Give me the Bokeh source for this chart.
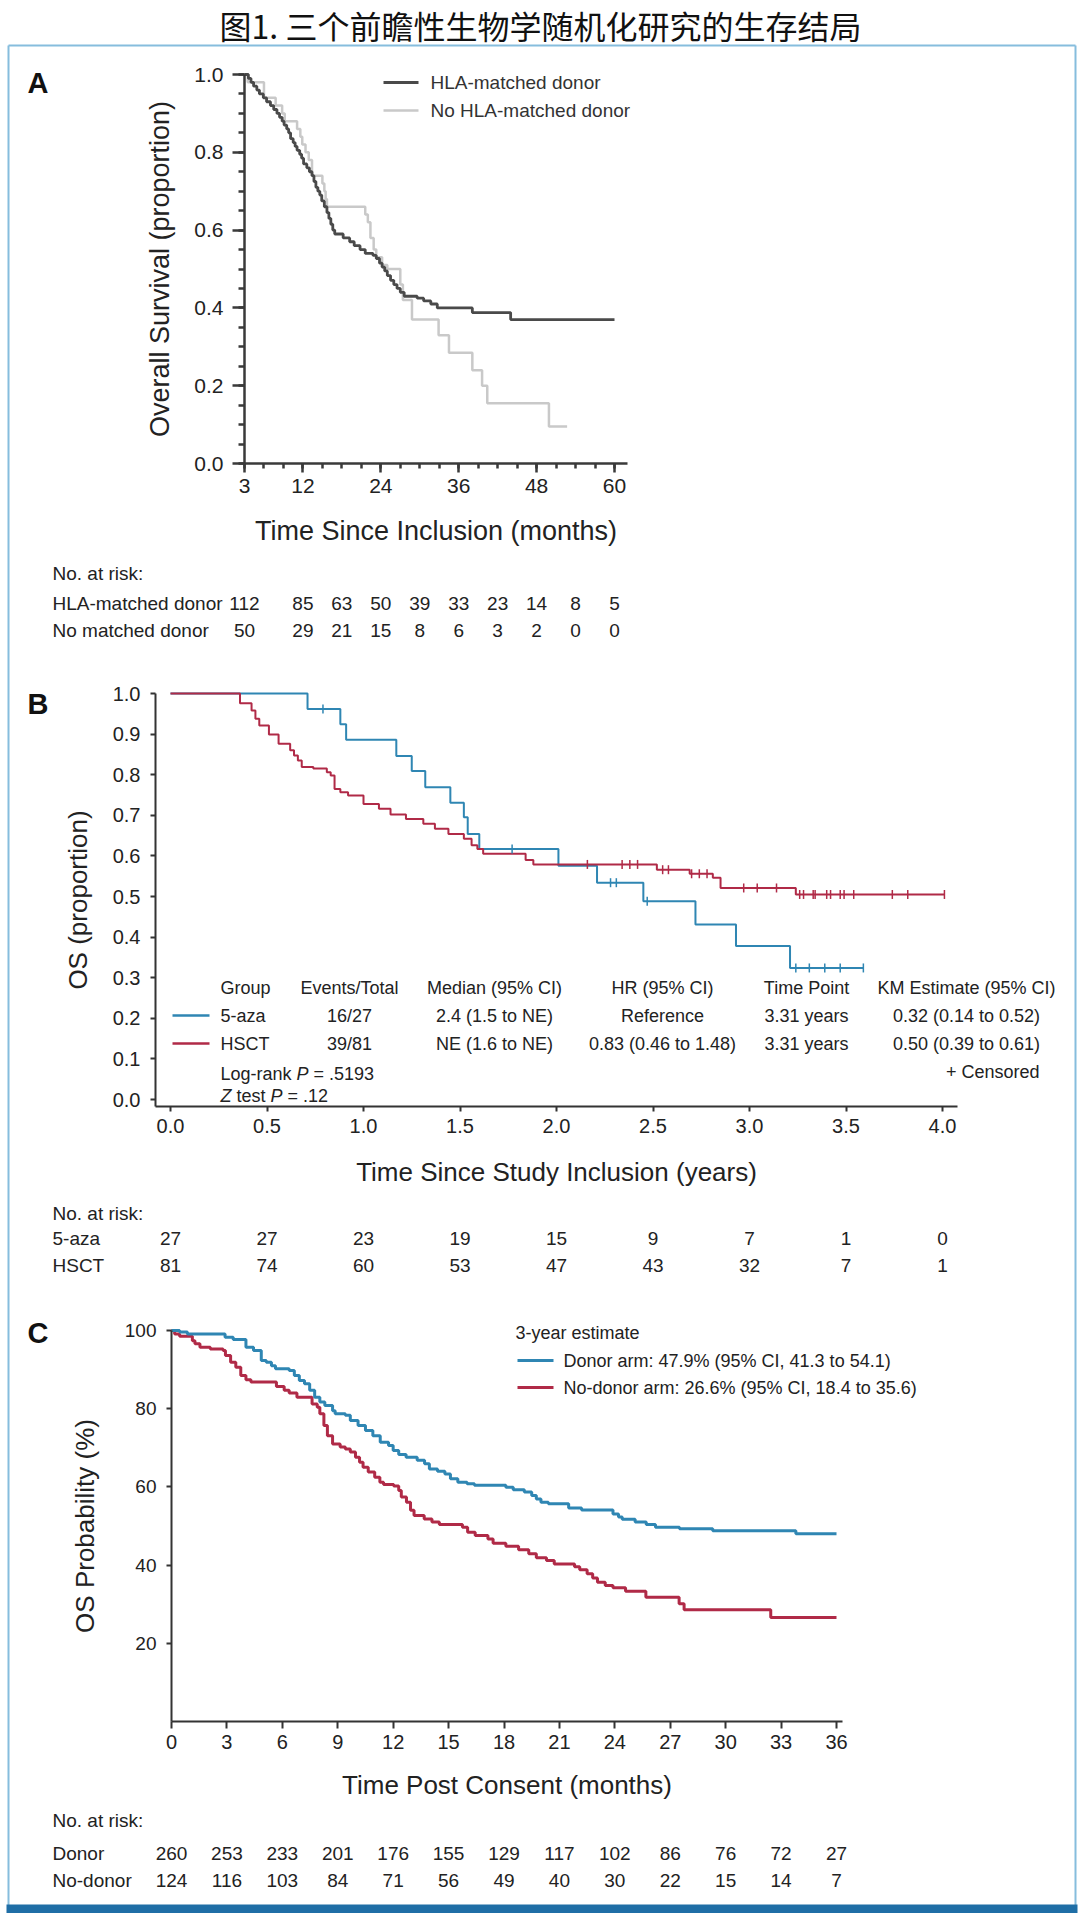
import numpy as np
from bokeh.plotting import figure
from bokeh.models import Range1d, LinearAxis, FixedTicker, NumeralTickFormatter
from bokeh.core.properties import value
from bokeh.embed import file_html
from bokeh.resources import INLINE

W, H = 1080, 1913
FONT = "Liberation Sans"
INK = "#222222"

TITLE = "图1. 三个前瞻性生物学随机化研究的生存结局"

# ---------------- Panel A data ----------------
a_xticks = [3, 12, 24, 36, 48, 60]
a_yticks = [0.0, 0.2, 0.4, 0.6, 0.8, 1.0]
a_hla_t = [3.0, 3.6, 4.0, 4.4, 4.9, 5.3, 5.9, 6.4, 7.0, 7.5, 8.0, 8.4, 8.8, 9.1, 9.5, 9.8,
           10.1, 10.5, 10.8, 11.1, 11.5, 11.8, 12.1, 12.6, 13.0, 13.4, 13.7, 14.0, 14.3,
           14.6, 14.9, 15.3, 15.7, 16.0, 16.3, 16.6, 16.9, 18.2, 19.2, 19.9, 20.8, 21.6,
           22.8, 23.3, 23.8, 24.2, 24.6, 25.0, 25.5, 26.0, 26.5, 27.0, 27.6, 29.6, 30.6,
           31.7, 32.7, 38.1, 44.0, 60.0]
a_hla_s = [1.0, 0.99, 0.98, 0.97, 0.96, 0.95, 0.94, 0.93, 0.92, 0.91, 0.90, 0.89, 0.88, 0.87,
           0.86, 0.85, 0.835, 0.825, 0.815, 0.805, 0.795, 0.785, 0.77, 0.76, 0.75, 0.74,
           0.725, 0.71, 0.70, 0.69, 0.675, 0.66, 0.645, 0.63, 0.615, 0.60, 0.59, 0.58, 0.57,
           0.56, 0.55, 0.54, 0.535, 0.527, 0.515, 0.505, 0.495, 0.483, 0.471, 0.46, 0.45,
           0.44, 0.43, 0.425, 0.418, 0.41, 0.40, 0.388, 0.37, 0.37]
a_no_t = [3.0, 3.5, 6.0, 7.8, 8.8, 9.2, 11.1, 11.6, 11.9, 12.4, 12.9, 13.4, 15.0, 15.3, 15.5,
          15.7, 21.6, 22.0, 22.4, 22.9, 23.3, 24.2, 25.0, 27.0, 27.4, 28.8, 32.9, 34.5, 38.1,
          39.6, 40.4, 49.9, 52.7]
a_no_s = [1.0, 0.98, 0.94, 0.92, 0.90, 0.88, 0.86, 0.84, 0.82, 0.80, 0.78, 0.74, 0.72, 0.70,
          0.68, 0.66, 0.64, 0.62, 0.58, 0.55, 0.53, 0.51, 0.50, 0.46, 0.42, 0.37, 0.33, 0.285,
          0.24, 0.20, 0.155, 0.095, 0.095]
a_series = ["HLA-matched donor", "No HLA-matched donor"]
a_risk_t = [3, 12, 18, 24, 30, 36, 42, 48, 54, 60]
a_risk_rows = ["HLA-matched donor", "No matched donor"]
a_risk_hla = [112, 85, 63, 50, 39, 33, 23, 14, 8, 5]
a_risk_no = [50, 29, 21, 15, 8, 6, 3, 2, 0, 0]

# ---------------- Panel B data ----------------
b_xticks = [0.0, 0.5, 1.0, 1.5, 2.0, 2.5, 3.0, 3.5, 4.0]
b_yticks = [0.0, 0.1, 0.2, 0.3, 0.4, 0.5, 0.6, 0.7, 0.8, 0.9, 1.0]
b_aza_t = [0.0, 0.71, 0.88, 0.91, 1.17, 1.25, 1.32, 1.45, 1.52, 1.54, 1.60, 2.01, 2.21, 2.45,
           2.72, 2.93, 3.21, 3.59]
b_aza_s = [1.0, 0.962, 0.924, 0.886, 0.846, 0.809, 0.769, 0.731, 0.695, 0.654, 0.617, 0.576,
           0.534, 0.488, 0.431, 0.378, 0.324, 0.324]
b_aza_cens = [0.79, 1.77, 2.28, 2.31, 2.47, 3.24, 3.31, 3.39, 3.47, 3.59]
b_hsct_t = [0.0, 0.36, 0.42, 0.44, 0.46, 0.51, 0.56, 0.62, 0.64, 0.66, 0.68, 0.74, 0.81, 0.83,
            0.85, 0.88, 0.92, 1.00, 1.08, 1.14, 1.22, 1.31, 1.37, 1.44, 1.52, 1.56, 1.59, 1.62,
            1.84, 1.88, 2.52, 2.69, 2.81, 2.85, 3.24, 4.01]
b_hsct_s = [1.0, 0.976, 0.958, 0.938, 0.921, 0.899, 0.876, 0.86, 0.847, 0.835, 0.819, 0.815,
            0.806, 0.798, 0.765, 0.757, 0.749, 0.728, 0.716, 0.702, 0.691, 0.679, 0.667, 0.654,
            0.642, 0.626, 0.617, 0.605, 0.59, 0.579, 0.566, 0.556, 0.546, 0.521, 0.505, 0.505]
b_hsct_cens = [2.16, 2.34, 2.38, 2.42, 2.55, 2.58, 2.70, 2.74, 2.78, 2.97, 3.04, 3.14, 3.26,
               3.28, 3.33, 3.34, 3.40, 3.42, 3.47, 3.49, 3.54, 3.74, 3.82, 4.01]
b_groups = ["5-aza", "HSCT"]
b_header = ["Group", "Events/Total", "Median (95% CI)", "HR (95% CI)", "Time Point",
            "KM Estimate (95% CI)"]
b_row_aza = ["5-aza", "16/27", "2.4 (1.5 to NE)", "Reference", "3.31 years",
             "0.32 (0.14 to 0.52)"]
b_row_hsct = ["HSCT", "39/81", "NE (1.6 to NE)", "0.83 (0.46 to 1.48)", "3.31 years",
              "0.50 (0.39 to 0.61)"]
b_risk_aza = [27, 27, 23, 19, 15, 9, 7, 1, 0]
b_risk_hsct = [81, 74, 60, 53, 47, 43, 32, 7, 1]

# ---------------- Panel C data ----------------
c_xticks = [0, 3, 6, 9, 12, 15, 18, 21, 24, 27, 30, 33, 36]
c_yticks = [20, 40, 60, 80, 100]
c_don_t = [0, 0.44, 0.86, 2.9, 3.34, 4.03, 4.44, 4.86, 5.13, 5.41, 5.63, 6.37, 6.65, 6.92, 7.2,
           7.48, 7.75, 8.03, 8.3, 8.72, 8.86, 9.41, 9.68, 10.1, 10.5, 10.9, 11.3, 11.75, 12.0,
           12.3, 12.7, 13.3, 13.7, 13.96, 14.4, 14.8, 15.1, 15.5, 16.0, 16.4, 18.1, 18.5,
           19.1, 19.5, 19.75, 20.0, 20.4, 21.5, 22.2, 23.9, 24.2, 24.4, 25.1, 25.7, 26.2,
           27.5, 29.3, 33.8, 36.0]
c_don_s = [100, 99.6, 99.1, 98.3, 97.7, 95.7, 94.9, 92.3, 91.9, 91.0, 90.2, 89.8, 88.5, 87.2,
           86.4, 84.7, 82.9, 81.7, 80.8, 79.5, 78.7, 78.3, 77.0, 75.7, 74.4, 73.1, 71.4, 70.6,
           69.3, 68.3, 67.6, 66.8, 65.9, 64.6, 64.0, 63.3, 62.1, 61.2, 60.8, 60.4, 59.9, 59.3,
           58.7, 57.8, 56.9, 56.1, 55.7, 54.6, 54.1, 53.1, 52.3, 51.7, 51.0, 50.4, 49.7, 49.3,
           48.8, 48.0, 48.0]
c_nod_t = [0, 0.17, 0.44, 1.13, 1.27, 1.54, 2.1, 2.79, 2.92, 3.2, 3.48, 3.75, 4.03, 4.3, 5.68,
           6.1, 6.37, 6.79, 7.61, 7.89, 8.03, 8.25, 8.44, 8.72, 9.13, 9.41, 9.68, 9.96, 10.18,
           10.37, 10.65, 11.0, 11.28, 11.48, 12.03, 12.3, 12.44, 12.72, 12.94, 13.13, 13.68,
           14.1, 14.5, 15.75, 16.03, 16.44, 17.13, 17.41, 18.1, 18.79, 19.34, 19.75, 20.3,
           20.72, 21.82, 22.1, 22.5, 22.8, 23.06, 23.48, 23.9, 24.58, 25.68, 27.48, 27.75,
           32.44, 36.0]
c_nod_s = [100, 99.1, 98.5, 97.4, 96.6, 95.7, 95.3, 94.9, 93.6, 91.9, 90.6, 88.5, 87.4, 86.8,
           85.7, 84.7, 84.0, 82.9, 81.2, 80.4, 78.7, 75.7, 73.1, 71.0, 70.2, 69.7, 68.9, 67.6,
           66.3, 65.0, 63.8, 62.5, 61.2, 60.6, 60.2, 59.1, 57.4, 56.1, 54.0, 52.7, 51.8, 51.0,
           50.4, 49.7, 48.4, 47.6, 46.7, 45.6, 44.8, 43.9, 42.9, 41.9, 41.2, 40.3, 39.6, 38.8,
           37.8, 36.7, 35.6, 34.8, 34.2, 33.3, 31.8, 30.1, 28.6, 26.6, 26.6]
c_legend = ["Donor arm: 47.9% (95% CI, 41.3 to 54.1)", "No-donor arm: 26.6% (95% CI, 18.4 to 35.6)"]
c_risk_rows = ["Donor", "No-donor"]
c_risk_don = [260, 253, 233, 201, 176, 155, 129, 117, 102, 86, 76, 72, 27]
c_risk_nod = [124, 116, 103, 84, 71, 56, 49, 40, 30, 22, 15, 14, 7]

# ---------------- colours ----------------
DARK = "#4a4a4a"
LIGHT = "#c9c9c9"
BLUE = "#2f86b3"
RED = "#b02a47"
FRAME = "#86bddd"
BAR = "#1f6ea6"


def rng(pa, va, pb, vb, p_lo, p_hi):
    k = (vb - va) / (pb - pa)
    return Range1d(start=va + (p_lo - pa) * k, end=va + (p_hi - pa) * k)


p = figure(width=W, height=H, x_range=Range1d(0, W), y_range=Range1d(H, 0),
           output_backend="svg", toolbar_location=None, x_axis_type=None, y_axis_type=None,
           min_border=0, outline_line_color=None, background_fill_color="white",
           border_fill_color="white")
p.min_border_left = p.min_border_right = p.min_border_top = p.min_border_bottom = 0

p.extra_x_ranges = {"ax": rng(244, 3, 614, 60, 0, W),
                    "bx": rng(170, 0.0, 942, 4.0, 0, W),
                    "cx": rng(171, 0, 836, 36, 0, W)}
p.extra_y_ranges = {"ay": rng(463, 0.0, 74, 1.0, H, 0),
                    "by": rng(1099, 0.0, 693, 1.0, H, 0),
                    "cy": rng(1721, 0, 1330, 100, H, 0)}


def txt(x, y, s, size, align="left", xr="default", yr="default", color=INK,
        style="normal", font=FONT):
    p.text(x=list(x), y=list(y), text=list(s), text_font=value(font),
           text_font_size=f"{size}px", text_align=align, text_baseline="middle",
           text_color=color, text_font_style=style, x_range_name=xr, y_range_name=yr)


def style_axis(ax, tick_out, minor_out, lab_size, lab_standoff, title_size, title_standoff,
               color="#333333", width=2):
    ax.axis_line_color = color
    ax.axis_line_width = width
    ax.major_tick_line_color = color
    ax.major_tick_line_width = width
    ax.minor_tick_line_color = color
    ax.minor_tick_line_width = width
    ax.major_tick_out = tick_out
    ax.major_tick_in = 0
    ax.minor_tick_out = minor_out
    ax.minor_tick_in = 0
    ax.major_label_text_font = FONT
    ax.major_label_text_font_size = f"{lab_size}px"
    ax.major_label_text_color = INK
    ax.major_label_standoff = lab_standoff
    ax.axis_label_text_font = FONT
    ax.axis_label_text_font_size = f"{title_size}px"
    ax.axis_label_text_font_style = "normal"
    ax.axis_label_text_color = INK
    ax.axis_label_standoff = title_standoff


# ---------------- frame & title ----------------
p.line(x=[8, 8], y=[45, 1906], line_color=FRAME, line_width=2)
p.line(x=[1075, 1075], y=[45, 1906], line_color=FRAME, line_width=2)
p.line(x=[8, 1075], y=[45, 45], line_color=FRAME, line_width=2)
p.quad(left=[6], right=[1077], top=[1904], bottom=[1913], fill_color=BAR, line_color=None)
txt([540], [24], [TITLE], 32, align="center", font="Noto Sans CJK SC", color="#111111")

# panel letters
txt([27, 27, 27], [82, 703, 1332], ["A", "B", "C"], 29, style="bold", color="#111111")

# ---------------- Panel A ----------------
p.step(x=a_no_t, y=a_no_s, mode="after", line_color=LIGHT, line_width=2.5,
       x_range_name="ax", y_range_name="ay")
p.step(x=a_hla_t, y=a_hla_s, mode="after", line_color=DARK, line_width=2.8,
       x_range_name="ax", y_range_name="ay")

yA = LinearAxis(x_range_name="ax", y_range_name="ay", fixed_location=3, bounds=(0, 1),
                ticker=FixedTicker(ticks=a_yticks, minor_ticks=[i * 0.05 for i in range(21)]),
                formatter=NumeralTickFormatter(format="0.0"),
                axis_label="Overall Survival (proportion)")
style_axis(yA, 12, 6, 21, 9, 27, 16, color="#3a3a3a", width=2.5)
p.add_layout(yA, "left")
xA = LinearAxis(x_range_name="ax", y_range_name="ay", fixed_location=0, bounds=(3, 62),
                ticker=FixedTicker(ticks=a_xticks, minor_ticks=list(range(3, 61, 3))),
                axis_label="Time Since Inclusion (months)")
style_axis(xA, 9, 5, 21, 6, 27, 20, color="#3a3a3a", width=2.5)
p.add_layout(xA, "below")

# legend A
p.line(x=[383, 418], y=[82, 82], line_color=DARK, line_width=2.8)
p.line(x=[383, 418], y=[110, 110], line_color=LIGHT, line_width=2.5)
txt([430, 430], [82, 110], a_series, 19, color="#333333")

# at-risk A
txt([52, 52, 52], [573, 603, 630], ["No. at risk:"] + a_risk_rows, 19)
txt(a_risk_t, [603] * len(a_risk_t), [str(v) for v in a_risk_hla], 19, align="center", xr="ax")
txt(a_risk_t, [630] * len(a_risk_t), [str(v) for v in a_risk_no], 19, align="center", xr="ax")

# ---------------- Panel B ----------------
p.step(x=b_aza_t, y=b_aza_s, mode="after", line_color=BLUE, line_width=2,
       x_range_name="bx", y_range_name="by")
p.step(x=b_hsct_t, y=b_hsct_s, mode="after", line_color=RED, line_width=2,
       x_range_name="bx", y_range_name="by")


def km_at(ts, ss, t):
    i = np.searchsorted(np.asarray(ts), t, side="right") - 1
    return ss[max(i, 0)]


p.scatter(x=b_aza_cens, y=[km_at(b_aza_t, b_aza_s, t) for t in b_aza_cens], marker="dash",
          angle=np.pi / 2, size=9, line_color=BLUE, line_width=1.5,
          x_range_name="bx", y_range_name="by")
p.scatter(x=b_hsct_cens, y=[km_at(b_hsct_t, b_hsct_s, t) for t in b_hsct_cens], marker="dash",
          angle=np.pi / 2, size=9, line_color=RED, line_width=1.5,
          x_range_name="bx", y_range_name="by")

yB = LinearAxis(x_range_name="bx", y_range_name="by", fixed_location=-0.078,
                bounds=(-0.017, 1.0), ticker=FixedTicker(ticks=b_yticks, minor_ticks=[]),
                formatter=NumeralTickFormatter(format="0.0"), axis_label="OS (proportion)")
style_axis(yB, 5, 0, 20, 10, 26, 17, width=2)
p.add_layout(yB, "left")
xB = LinearAxis(x_range_name="bx", y_range_name="by", fixed_location=-0.017,
                bounds=(-0.078, 4.08), ticker=FixedTicker(ticks=b_xticks, minor_ticks=[]),
                formatter=NumeralTickFormatter(format="0.0"),
                axis_label="Time Since Study Inclusion (years)")
style_axis(xB, 5, 0, 20, 8, 26, 20, width=2)
p.add_layout(xB, "below")

# legend / summary table B
col_x = [220, 349, 494, 662, 806, 966]
txt([col_x[0]], [987], [b_header[0]], 18)
txt(col_x[1:], [987] * 5, b_header[1:], 18, align="center")
txt([col_x[0]], [1015], [b_row_aza[0]], 18)
txt(col_x[1:], [1015] * 5, b_row_aza[1:], 18, align="center")
txt([col_x[0]], [1043], [b_row_hsct[0]], 18)
txt(col_x[1:], [1043] * 5, b_row_hsct[1:], 18, align="center")
p.line(x=[172, 209], y=[1015, 1015], line_color=BLUE, line_width=2.5)
p.line(x=[172, 209], y=[1043, 1043], line_color=RED, line_width=2.5)
txt([220, 313], [1073, 1073], ["Log-rank", "= .5193"], 18)
txt([296], [1073], ["P"], 18, style="italic")
txt([220, 270], [1095, 1095], ["Z", "P"], 18, style="italic")
txt([236, 287], [1095, 1095], ["test", "= .12"], 18)
txt([1039], [1071], ["+ Censored"], 18, align="right")

# at-risk B
txt([52, 52, 52], [1213, 1238, 1265], ["No. at risk:"] + b_groups, 19)
txt(b_xticks, [1238] * 9, [str(v) for v in b_risk_aza], 19, align="center", xr="bx")
txt(b_xticks, [1265] * 9, [str(v) for v in b_risk_hsct], 19, align="center", xr="bx")

# ---------------- Panel C ----------------
p.step(x=c_nod_t, y=c_nod_s, mode="after", line_color=RED, line_width=3,
       x_range_name="cx", y_range_name="cy")
p.step(x=c_don_t, y=c_don_s, mode="after", line_color=BLUE, line_width=3,
       x_range_name="cx", y_range_name="cy")

yC = LinearAxis(x_range_name="cx", y_range_name="cy", fixed_location=0, bounds=(0, 100),
                ticker=FixedTicker(ticks=c_yticks, minor_ticks=[]),
                axis_label="OS Probability (%)")
style_axis(yC, 5, 0, 19, 10, 26, 22, width=2)
p.add_layout(yC, "left")
xC = LinearAxis(x_range_name="cx", y_range_name="cy", fixed_location=0, bounds=(0, 36.3),
                ticker=FixedTicker(ticks=c_xticks, minor_ticks=[]),
                axis_label="Time Post Consent (months)")
style_axis(xC, 7, 0, 20, 6, 26, 18, width=2)
p.add_layout(xC, "below")

# legend C
txt([515], [1332], ["3-year estimate"], 18)
p.line(x=[517, 553], y=[1360, 1360], line_color=BLUE, line_width=3)
p.line(x=[517, 553], y=[1387, 1387], line_color=RED, line_width=3)
txt([563, 563], [1360, 1387], c_legend, 18)

# at-risk C
txt([52, 52, 52], [1820, 1853, 1880], ["No. at risk:"] + c_risk_rows, 19)
txt(c_xticks, [1853] * 13, [str(v) for v in c_risk_don], 19, align="center", xr="cx")
txt(c_xticks, [1880] * 13, [str(v) for v in c_risk_nod], 19, align="center", xr="cx")

open("out.html", "w").write(file_html(p, INLINE))
